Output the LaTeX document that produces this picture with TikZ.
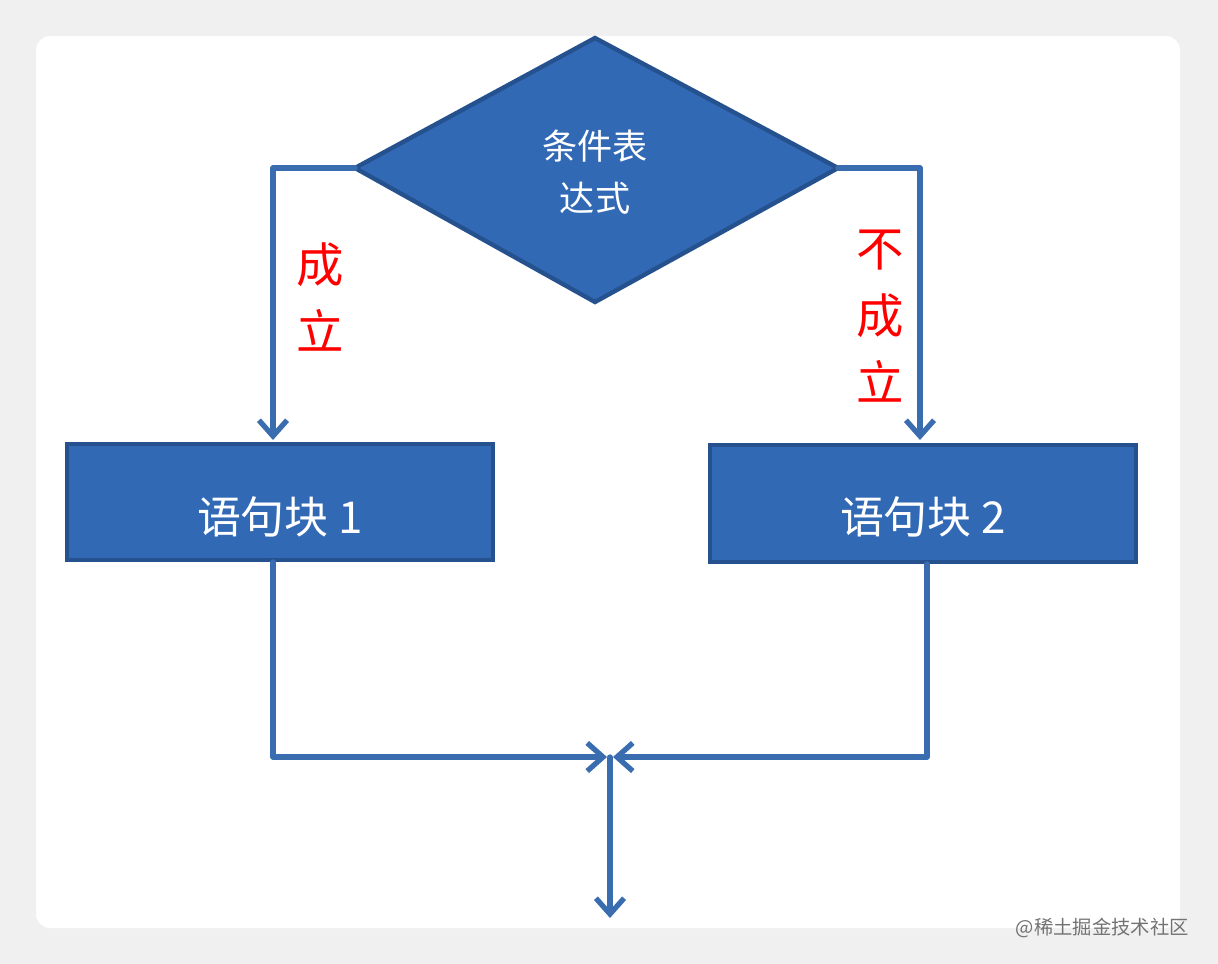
\documentclass[tikz,border=0pt]{standalone}
\usepackage{fontspec}
\newfontfamily\cjk{Noto Sans CJK SC}
\usetikzlibrary{arrows.meta}
\definecolor{fillb}{HTML}{3169B4}
\definecolor{edgeb}{HTML}{25528E}
\definecolor{lineb}{HTML}{3A6DB0}
\begin{document}
\begin{tikzpicture}[x=0.02cm,y=-0.02cm,
  conn/.style={draw=lineb,line width=3pt,line cap=round,line join=round},
  arr/.style={conn,-{Straight Barb[length=9pt,width=16pt,line width=3pt]}},
  box/.style={draw=edgeb,fill=fillb,line width=2.5pt}]
\fill[black!6] (0,0) rectangle (1218,964);
\fill[white,rounded corners=8pt] (36,36) rectangle (1180,928);
\useasboundingbox (0,0) rectangle (1218,964);
\coordinate (dt) at (595,38); \coordinate (dl) at (355,168);
\coordinate (dr) at (838,168); \coordinate (db) at (595,302);
\draw[box] (dt) -- (dr) -- (db) -- (dl) -- cycle;
\node[text=white,font=\cjk\fontsize{20}{30}\selectfont,align=center] (dtext) at (595,172) {条件表\\达式};
\draw[box] (67,444) rectangle (493,560);
\draw[box] (710,445) rectangle (1136,562);
\node[text=white,font=\cjk\fontsize{25}{30}\selectfont] (t1) at (280,517) {语句块 1};
\node[text=white,font=\cjk\fontsize{25}{30}\selectfont] (t2) at (923,517) {语句块 2};
\coordinate (a1) at (273,440); \coordinate (a2) at (920,440);
\coordinate (l1) at (273,168); \coordinate (r1) at (920,168);
\draw[arr] (dl) -- (l1) -- (a1);
\draw[arr] (dr) -- (r1) -- (a2);
\coordinate (s1) at (273,562); \coordinate (s2) at (927,564);
\coordinate (c1) at (273,757); \coordinate (c2) at (927,757);
\coordinate (m1) at (607,757); \coordinate (m2) at (613,757);
\coordinate (top) at (610,757); \coordinate (end) at (610,918);
\draw[arr] (s1) -- (c1) -- (m1);
\draw[arr] (s2) -- (c2) -- (m2);
\draw[arr] (top) -- (end);
\node[text=red,font=\cjk\fontsize{27}{38}\selectfont,align=center] (y) at (320,297) {成\\立};
\node[text=red,font=\cjk\fontsize{27}{38}\selectfont,align=center] (n) at (880,316) {不\\成\\立};
\node[text=black!55,font=\cjk\fontsize{11}{13}\selectfont,anchor=east] (wm) at (1195,928) {@稀土掘金技术社区};
\end{tikzpicture}
\end{document}
